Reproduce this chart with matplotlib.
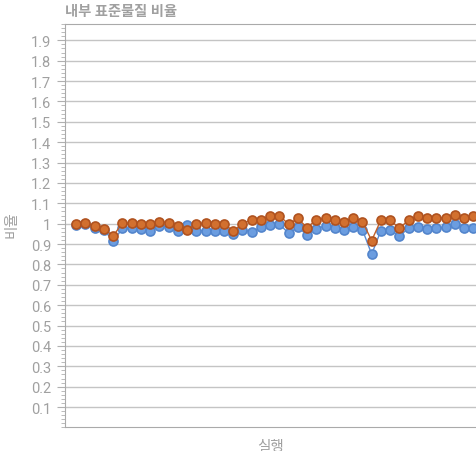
import matplotlib.pyplot as plt
import numpy as np
from matplotlib.ticker import MultipleLocator, FixedLocator

plt.rcParams['font.family'] = ['Roboto', 'Noto Sans CJK KR', 'DejaVu Sans']

# 내부 표준물질 비율 per run
orange_vals = [1.00, 1.005, 0.987, 0.974, 0.94, 1.003, 1.003, 1.00, 0.997, 1.01,
               1.005, 0.99, 0.97, 1.00, 1.003, 1.00, 1.00, 0.964, 1.00, 1.02,
               1.02, 1.04, 1.04, 0.997, 1.026, 0.98, 1.02, 1.026, 1.02, 1.007,
               1.03, 1.01, 0.917, 1.018, 1.018, 0.977, 1.018, 1.04, 1.026, 1.026,
               1.03, 1.044, 1.03, 1.04]
blue_vals = [0.995, 1.00, 0.98, 0.97, 0.914, 0.977, 0.977, 0.974, 0.966, 0.99,
             0.982, 0.962, 0.994, 0.966, 0.966, 0.962, 0.966, 0.95, 0.97, 0.96,
             0.982, 0.995, 0.998, 0.953, 0.982, 0.945, 0.974, 0.99, 0.977, 0.97,
             0.982, 0.97, 0.85, 0.966, 0.97, 0.94, 0.977, 0.982, 0.974, 0.977,
             0.982, 0.998, 0.977, 0.977]
runs = np.arange(len(orange_vals))

title = '내부 표준물질 비율'
xlabel = '실행'
ylabel = '비율'

gray = '#a0a0a0'
grid_gray = '#c4c4c4'

fig = plt.figure(figsize=(4.76, 4.52), dpi=100)
ax = fig.add_axes([65 / 476, 1 - 428.4 / 452, 1 - 65 / 476, (428.4 - 25) / 452])

ax.plot(runs, blue_vals, color='#5b8bd0', lw=1, marker='o', ms=6.5,
        mfc='#6b9de0', mec='#5385cc', mew=1.2, zorder=3)
ax.plot(runs, orange_vals, color='#c0602a', lw=1, marker='o', ms=6.5,
        mfc='#d2702f', mec='#b0521f', mew=1.2, zorder=4)

ax.set_xlim(-1.22, 43.3)
ax.set_ylim(0, 1.98)

yt = np.round(np.arange(0.1, 1.95, 0.1), 1)
ax.yaxis.set_major_locator(FixedLocator(yt))
ax.set_yticklabels([f'{v:g}' for v in yt])
ax.yaxis.set_minor_locator(MultipleLocator(0.02))
ax.set_xticks([])

ax.grid(axis='y', which='major', color=grid_gray, lw=1)
ax.tick_params(axis='y', which='major', length=6, color='#b0b0b0', labelcolor=gray,
               labelsize=10.5, pad=4)
ax.tick_params(axis='y', which='minor', length=3, color='#b0b0b0')

for side in ['left', 'bottom', 'top']:
    ax.spines[side].set_color('#aaaaaa')
ax.spines['right'].set_visible(False)

ax.set_xlabel(xlabel, color=gray, fontsize=10.5, labelpad=8)
fig.text(12 / 476, 1 - 225 / 452, ylabel, color=gray, fontsize=10.5,
         rotation=90, ha='center', va='center')
fig.text(65 / 476, 1 - 12 / 452, title, color=gray, fontsize=10.3, fontweight='bold',
         ha='left', va='center')

fig.savefig('out.png', dpi=100)
